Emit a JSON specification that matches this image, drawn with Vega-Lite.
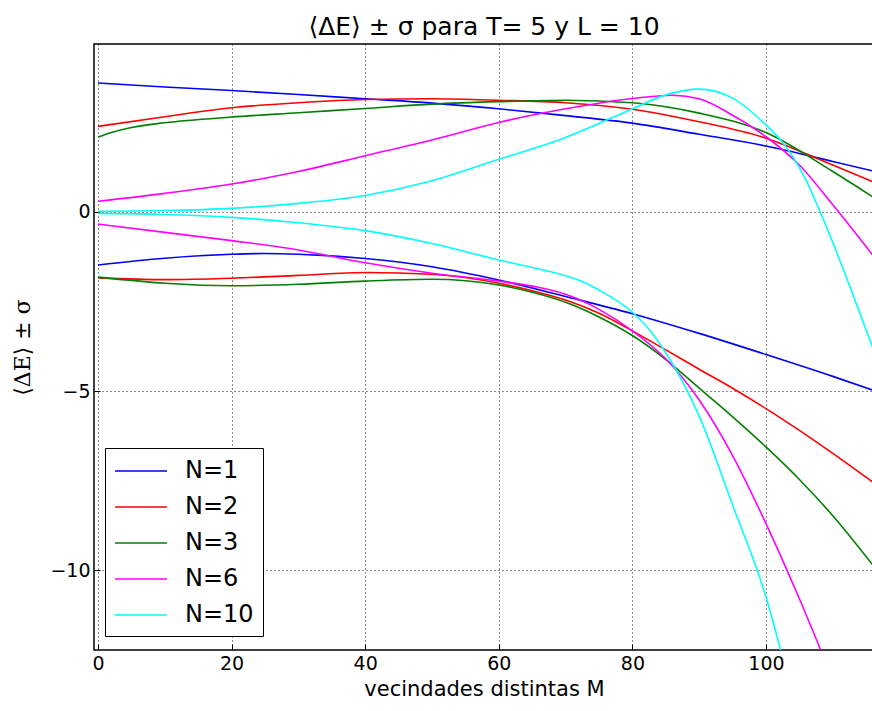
{
  "$schema": "https://vega.github.io/schema/vega-lite/v6.json",
  "width": 780,
  "height": 606,
  "autosize": {"type": "none"},
  "padding": {"left": 94, "top": 44, "right": 0, "bottom": 61},
  "background": "white",
  "title": {"text": "⟨ΔE⟩ ± σ para T= 5 y L = 10", "font": "DejaVu Sans", "fontSize": 25, "fontWeight": "normal", "color": "black", "offset": 4},
  "config": {
    "view": {"stroke": "black", "strokeWidth": 1.5},
    "axis": {"labelFont": "DejaVu Sans", "labelFontSize": 19, "labelColor": "black", "titleFont": "DejaVu Sans", "titleFontSize": 21, "titleFontWeight": "normal", "titleColor": "black", "grid": true, "gridColor": "black", "gridDash": [1, 3], "gridOpacity": 0.9, "gridWidth": 1, "domain": false, "tickColor": "black", "tickSize": -6, "labelPadding": 10}
  },
  "data": {"values": [
    {"N":"N=1","b":"u","x":0,"y":3.60},{"N":"N=1","b":"u","x":10,"y":3.49},{"N":"N=1","b":"u","x":20,"y":3.39},{"N":"N=1","b":"u","x":30,"y":3.28},{"N":"N=1","b":"u","x":40,"y":3.16},{"N":"N=1","b":"u","x":50,"y":3.04},{"N":"N=1","b":"u","x":60,"y":2.88},{"N":"N=1","b":"u","x":70,"y":2.69},{"N":"N=1","b":"u","x":80,"y":2.48},{"N":"N=1","b":"u","x":90,"y":2.17},{"N":"N=1","b":"u","x":100,"y":1.84},{"N":"N=1","b":"u","x":110,"y":1.41},{"N":"N=1","b":"u","x":117,"y":1.10},
    {"N":"N=1","b":"l","x":0,"y":-1.48},{"N":"N=1","b":"l","x":10,"y":-1.29},{"N":"N=1","b":"l","x":20,"y":-1.18},{"N":"N=1","b":"l","x":25,"y":-1.16},{"N":"N=1","b":"l","x":30,"y":-1.18},{"N":"N=1","b":"l","x":40,"y":-1.30},{"N":"N=1","b":"l","x":50,"y":-1.53},{"N":"N=1","b":"l","x":60,"y":-1.90},{"N":"N=1","b":"l","x":70,"y":-2.36},{"N":"N=1","b":"l","x":80,"y":-2.84},{"N":"N=1","b":"l","x":90,"y":-3.39},{"N":"N=1","b":"l","x":100,"y":-3.98},{"N":"N=1","b":"l","x":110,"y":-4.59},{"N":"N=1","b":"l","x":117,"y":-5.04},
    {"N":"N=2","b":"u","x":0,"y":2.39},{"N":"N=2","b":"u","x":10,"y":2.66},{"N":"N=2","b":"u","x":20,"y":2.91},{"N":"N=2","b":"u","x":30,"y":3.05},{"N":"N=2","b":"u","x":40,"y":3.14},{"N":"N=2","b":"u","x":50,"y":3.16},{"N":"N=2","b":"u","x":60,"y":3.12},{"N":"N=2","b":"u","x":70,"y":3.05},{"N":"N=2","b":"u","x":80,"y":2.87},{"N":"N=2","b":"u","x":90,"y":2.52},{"N":"N=2","b":"u","x":100,"y":2.06},{"N":"N=2","b":"u","x":110,"y":1.31},{"N":"N=2","b":"u","x":117,"y":0.77},
    {"N":"N=2","b":"l","x":0,"y":-1.84},{"N":"N=2","b":"l","x":10,"y":-1.89},{"N":"N=2","b":"l","x":20,"y":-1.85},{"N":"N=2","b":"l","x":30,"y":-1.77},{"N":"N=2","b":"l","x":40,"y":-1.69},{"N":"N=2","b":"l","x":50,"y":-1.74},{"N":"N=2","b":"l","x":60,"y":-1.99},{"N":"N=2","b":"l","x":65,"y":-2.20},{"N":"N=2","b":"l","x":70,"y":-2.46},{"N":"N=2","b":"l","x":75,"y":-2.83},{"N":"N=2","b":"l","x":80,"y":-3.32},{"N":"N=2","b":"l","x":85,"y":-3.85},{"N":"N=2","b":"l","x":90,"y":-4.39},{"N":"N=2","b":"l","x":95,"y":-4.92},{"N":"N=2","b":"l","x":100,"y":-5.49},{"N":"N=2","b":"l","x":105,"y":-6.10},{"N":"N=2","b":"l","x":110,"y":-6.74},{"N":"N=2","b":"l","x":117,"y":-7.68},
    {"N":"N=3","b":"u","x":0,"y":2.09},{"N":"N=3","b":"u","x":2,"y":2.22},{"N":"N=3","b":"u","x":5,"y":2.36},{"N":"N=3","b":"u","x":10,"y":2.49},{"N":"N=3","b":"u","x":20,"y":2.65},{"N":"N=3","b":"u","x":30,"y":2.77},{"N":"N=3","b":"u","x":40,"y":2.89},{"N":"N=3","b":"u","x":50,"y":3.01},{"N":"N=3","b":"u","x":60,"y":3.08},{"N":"N=3","b":"u","x":70,"y":3.12},{"N":"N=3","b":"u","x":80,"y":3.05},{"N":"N=3","b":"u","x":90,"y":2.76},{"N":"N=3","b":"u","x":100,"y":2.22},{"N":"N=3","b":"u","x":110,"y":1.13},{"N":"N=3","b":"u","x":117,"y":0.30},
    {"N":"N=3","b":"l","x":0,"y":-1.82},{"N":"N=3","b":"l","x":10,"y":-1.99},{"N":"N=3","b":"l","x":20,"y":-2.06},{"N":"N=3","b":"l","x":30,"y":-2.02},{"N":"N=3","b":"l","x":40,"y":-1.93},{"N":"N=3","b":"l","x":50,"y":-1.88},{"N":"N=3","b":"l","x":60,"y":-2.04},{"N":"N=3","b":"l","x":65,"y":-2.24},{"N":"N=3","b":"l","x":70,"y":-2.52},{"N":"N=3","b":"l","x":75,"y":-2.93},{"N":"N=3","b":"l","x":80,"y":-3.45},{"N":"N=3","b":"l","x":85,"y":-4.12},{"N":"N=3","b":"l","x":90,"y":-4.92},{"N":"N=3","b":"l","x":95,"y":-5.72},{"N":"N=3","b":"l","x":100,"y":-6.56},{"N":"N=3","b":"l","x":105,"y":-7.47},{"N":"N=3","b":"l","x":110,"y":-8.48},{"N":"N=3","b":"l","x":117,"y":-10.10},
    {"N":"N=6","b":"u","x":0,"y":0.30},{"N":"N=6","b":"u","x":10,"y":0.52},{"N":"N=6","b":"u","x":20,"y":0.78},{"N":"N=6","b":"u","x":30,"y":1.13},{"N":"N=6","b":"u","x":40,"y":1.57},{"N":"N=6","b":"u","x":50,"y":2.01},{"N":"N=6","b":"u","x":60,"y":2.50},{"N":"N=6","b":"u","x":70,"y":2.88},{"N":"N=6","b":"u","x":80,"y":3.17},{"N":"N=6","b":"u","x":86,"y":3.26},{"N":"N=6","b":"u","x":90,"y":3.16},{"N":"N=6","b":"u","x":95,"y":2.70},{"N":"N=6","b":"u","x":100,"y":2.10},{"N":"N=6","b":"u","x":105,"y":1.31},{"N":"N=6","b":"u","x":110,"y":0.20},{"N":"N=6","b":"u","x":117,"y":-1.45},
    {"N":"N=6","b":"l","x":0,"y":-0.34},{"N":"N=6","b":"l","x":10,"y":-0.57},{"N":"N=6","b":"l","x":20,"y":-0.80},{"N":"N=6","b":"l","x":30,"y":-1.06},{"N":"N=6","b":"l","x":40,"y":-1.42},{"N":"N=6","b":"l","x":50,"y":-1.71},{"N":"N=6","b":"l","x":60,"y":-1.93},{"N":"N=6","b":"l","x":65,"y":-2.07},{"N":"N=6","b":"l","x":70,"y":-2.30},{"N":"N=6","b":"l","x":75,"y":-2.72},{"N":"N=6","b":"l","x":80,"y":-3.32},{"N":"N=6","b":"l","x":85,"y":-4.10},{"N":"N=6","b":"l","x":90,"y":-5.25},{"N":"N=6","b":"l","x":95,"y":-6.80},{"N":"N=6","b":"l","x":100,"y":-8.70},{"N":"N=6","b":"l","x":105,"y":-10.80},{"N":"N=6","b":"l","x":109,"y":-12.60},
    {"N":"N=10","b":"u","x":0,"y":0.02},{"N":"N=10","b":"u","x":10,"y":0.04},{"N":"N=10","b":"u","x":20,"y":0.10},{"N":"N=10","b":"u","x":30,"y":0.24},{"N":"N=10","b":"u","x":40,"y":0.46},{"N":"N=10","b":"u","x":50,"y":0.87},{"N":"N=10","b":"u","x":60,"y":1.47},{"N":"N=10","b":"u","x":70,"y":2.08},{"N":"N=10","b":"u","x":76.6,"y":2.60},{"N":"N=10","b":"u","x":80,"y":2.88},{"N":"N=10","b":"u","x":85,"y":3.27},{"N":"N=10","b":"u","x":90,"y":3.43},{"N":"N=10","b":"u","x":95,"y":3.18},{"N":"N=10","b":"u","x":100,"y":2.43},{"N":"N=10","b":"u","x":102,"y":2.05},{"N":"N=10","b":"u","x":104,"y":1.55},{"N":"N=10","b":"u","x":106,"y":0.89},{"N":"N=10","b":"u","x":108,"y":0.05},{"N":"N=10","b":"u","x":110,"y":-0.85},{"N":"N=10","b":"u","x":113,"y":-2.30},{"N":"N=10","b":"u","x":117,"y":-4.30},
    {"N":"N=10","b":"l","x":0,"y":-0.04},{"N":"N=10","b":"l","x":10,"y":-0.07},{"N":"N=10","b":"l","x":20,"y":-0.15},{"N":"N=10","b":"l","x":30,"y":-0.30},{"N":"N=10","b":"l","x":40,"y":-0.52},{"N":"N=10","b":"l","x":50,"y":-0.88},{"N":"N=10","b":"l","x":60,"y":-1.34},{"N":"N=10","b":"l","x":65,"y":-1.55},{"N":"N=10","b":"l","x":70,"y":-1.78},{"N":"N=10","b":"l","x":72.5,"y":-1.94},{"N":"N=10","b":"l","x":75,"y":-2.18},{"N":"N=10","b":"l","x":80,"y":-2.80},{"N":"N=10","b":"l","x":82.6,"y":-3.30},{"N":"N=10","b":"l","x":85,"y":-3.93},{"N":"N=10","b":"l","x":90,"y":-5.70},{"N":"N=10","b":"l","x":95,"y":-8.18},{"N":"N=10","b":"l","x":100,"y":-10.75},{"N":"N=10","b":"l","x":103,"y":-12.80}
  ]},
  "mark": {"type": "line", "strokeWidth": 1.6, "clip": true, "interpolate": "monotone"},
  "encoding": {
    "x": {"field": "x", "type": "quantitative", "scale": {"domain": [-0.6, 116.17], "nice": false, "zero": false}, "axis": {"values": [0, 20, 40, 60, 80, 100], "title": "vecindades distintas M", "titlePadding": 5}},
    "y": {"field": "y", "type": "quantitative", "scale": {"domain": [-12.23, 4.69], "nice": false, "zero": false}, "axis": {"values": [-10, -5, 0], "title": "⟨ΔE⟩ ± σ", "titleFont": "DejaVu Serif", "titleFontSize": 22, "titlePadding": 15}},
    "color": {"field": "N", "type": "nominal", "scale": {"domain": ["N=1", "N=2", "N=3", "N=6", "N=10"], "range": ["#0000ff", "#ff0000", "#008000", "#ff00ff", "#00ffff"]},
      "legend": {"orient": "none", "legendX": 11, "legendY": 404, "title": null, "symbolType": "M-1,0H3", "symbolSize": 676, "symbolStrokeWidth": 1.6, "labelFont": "DejaVu Sans", "labelFontSize": 24, "labelColor": "black", "labelOffset": 43, "rowPadding": 10, "padding": 9, "strokeColor": "black", "fillColor": "white"}},
    "detail": {"field": "b", "type": "nominal"}
  }
}
